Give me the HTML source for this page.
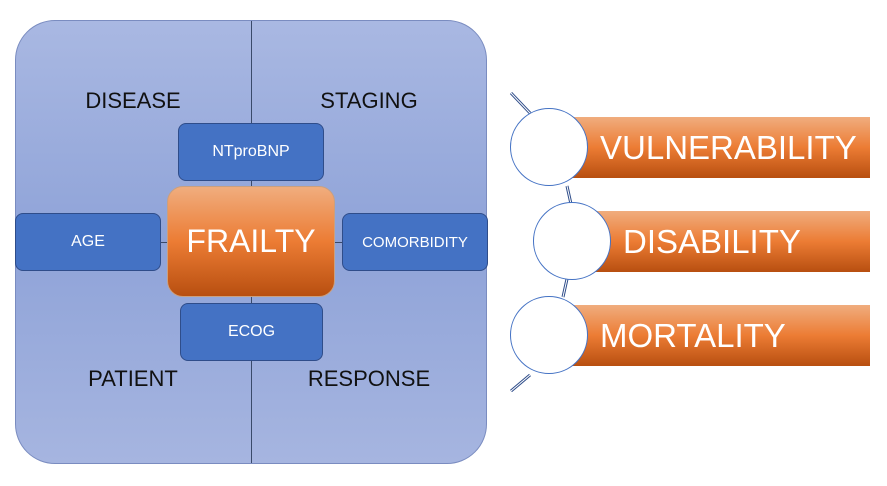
<!DOCTYPE html>
<html><head><style>
body{margin:0;width:887px;height:486px;background:#fff;position:relative;overflow:hidden;font-family:"Liberation Sans",sans-serif}
.a{position:absolute}
.big{left:15px;top:20px;width:472px;height:444px;border:1px solid #7a8cc0;border-radius:40px;background:linear-gradient(#a9b8e2,#8fa3d8 50%,#a6b5e0);box-sizing:border-box}
.lbl{font-size:22px;color:#111;text-align:center;width:200px}
.b{background:#4472c4;border:1px solid #2f4d8a;border-radius:8px;color:#fff;font-size:16px;display:flex;align-items:center;justify-content:center;box-sizing:border-box}
.or{background:linear-gradient(#f0ad7e,#ec7c34 50%,#b84f10);color:#fff;display:flex;align-items:center}
</style></head><body>
<div class="a big"></div>
<div class="a" style="left:251px;top:21px;width:1px;height:442px;background:#3a4a6a"></div>
<div class="a" style="left:160px;top:242px;width:182px;height:1px;background:#3a4a6a"></div>
<div class="a lbl" style="left:33px;top:88px">DISEASE</div>
<div class="a lbl" style="left:269px;top:88px">STAGING</div>
<div class="a lbl" style="left:33px;top:366px">PATIENT</div>
<div class="a lbl" style="left:269px;top:366px">RESPONSE</div>
<div class="a b" style="left:178px;top:123px;width:146px;height:58px">NTproBNP</div>
<div class="a b" style="left:15px;top:213px;width:146px;height:58px">AGE</div>
<div class="a b" style="left:342px;top:213px;width:146px;height:58px;font-size:15px">COMORBIDITY</div>
<div class="a b" style="left:180px;top:303px;width:143px;height:58px">ECOG</div>
<div class="a or" style="left:167px;top:186px;width:168px;height:111px;border-radius:16px;border:1px solid #c9a080;box-sizing:border-box;justify-content:center;font-size:32px">FRAILTY</div>
<svg class="a" style="left:0;top:0" width="887" height="486">
<path d="M511,93 L530,113 M567,186 L571,204 M567,279 L563,297 M530,375 L511,391" stroke="#2f4d8a" stroke-width="3" fill="none"/>
<path d="M511,93 L530,113 M567,186 L571,204 M567,279 L563,297 M530,375 L511,391" stroke="#fff" stroke-width="1" fill="none"/>
</svg>
<div class="a or" style="left:560px;top:117px;width:310px;height:61px;font-size:33px"><span style="margin-left:40px">VULNERABILITY</span></div>
<div class="a or" style="left:583px;top:211px;width:287px;height:61px;font-size:33px"><span style="margin-left:40px">DISABILITY</span></div>
<div class="a or" style="left:560px;top:305px;width:310px;height:61px;font-size:33px"><span style="margin-left:40px">MORTALITY</span></div>
<div class="a" style="left:510px;top:108px;width:78px;height:78px;border-radius:50%;background:#fff;border:1px solid #4472c4;box-sizing:border-box"></div>
<div class="a" style="left:533px;top:202px;width:78px;height:78px;border-radius:50%;background:#fff;border:1px solid #4472c4;box-sizing:border-box"></div>
<div class="a" style="left:510px;top:296px;width:78px;height:78px;border-radius:50%;background:#fff;border:1px solid #4472c4;box-sizing:border-box"></div>
</body></html>
